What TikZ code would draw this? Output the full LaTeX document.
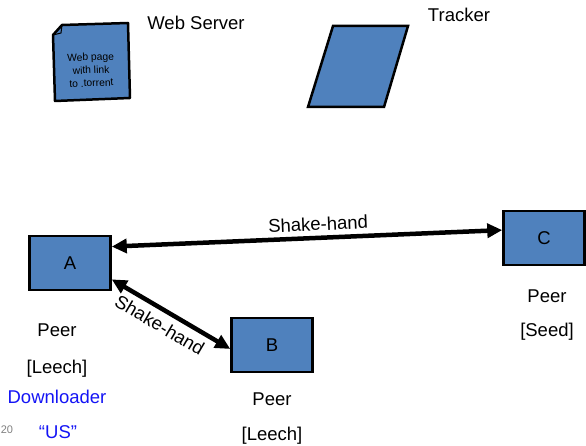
\documentclass[tikz,border=0pt]{standalone}
\usepackage{fontspec}
\setmainfont{Liberation Sans}
\usepackage{tikz}
\usetikzlibrary{arrows.meta, calc}

\definecolor{PeerBlue}{RGB}{79,129,189}
\definecolor{LabelBlue}{RGB}{20,20,245}

\tikzset{
  peerbox/.style={draw=black, line width=2.5pt, fill=PeerBlue, minimum width=81pt,
    minimum height=54pt, inner sep=0pt, font=\fontsize{18.5}{22}\selectfont},
  lbl/.style={font=\fontsize{18.5}{22}\selectfont, inner sep=0pt},
  doctext/.style={font=\fontsize{10.3}{13}\selectfont, align=center, inner sep=0pt},
  shake/.style={line width=4.5pt, {Triangle[length=15pt,width=14pt]}-{Triangle[length=15pt,width=14pt]}},
}

\begin{document}
\begin{tikzpicture}[x=1pt, y=-1pt]
	\useasboundingbox (0,0) rectangle (586,446);

	% web page with folded corner
	\coordinate (P1) at (62,25);
	\coordinate (P2) at (128,23);
	\coordinate (P3) at (130,98);
	\coordinate (P4) at (55,101);
	\coordinate (P5) at (53,35);

	\filldraw[fill=PeerBlue, draw=black, line width=2.5pt, line join=round]
		(P1) -- (P2) -- (P3) -- (P4) -- (P5) -- cycle;
	\draw[line width=1pt] (P5) -- (61,33) -- (P1);
	\node[doctext, rotate=2] (page) at (91,70) {Web page\\with link\\to .torrent};

	% tracker
	\filldraw[fill=PeerBlue, draw=black, line width=2.5pt]
		(333,26) -- (408,26) -- (384,107) -- (308,107) -- cycle;

	\node[lbl, anchor=base] (server) at (196,30) {Web Server};
	\node[lbl, anchor=base] (tracker) at (459,22) {Tracker};

	% peers
	\node[peerbox] (A) at (70,263) {A};
	\node[peerbox] (B) at (272,345) {B};
	\node[peerbox] (C) at (544,238) {C};

	\draw[shake] ($(A.north east)!0.21!(A.south east)$)
		-- node[lbl, pos=0.53, sloped, above=5pt] (hsAC) {Shake-hand}
		($(C.north west)!0.36!(C.south west)$);
	\draw[shake] ($(A.north east)!0.79!(A.south east)$)
		-- node[lbl, pos=0.47, sloped, below=6pt] (hsAB) {Shake-hand}
		($(B.north west)!0.57!(B.south west)$);

	\node[lbl, anchor=base] (Apeer) at (57,336) {Peer};
	\node[lbl, anchor=base] (Arole) at (57,373) {[Leech]};
	\node[lbl, anchor=base, text=LabelBlue] (Adown) at (57,403) {Downloader};
	\node[lbl, anchor=base, text=LabelBlue] (Aus) at (58,438) {``US''};
	\node[font=\fontsize{11}{13}\selectfont, text=gray, inner sep=0pt, anchor=base] (pagenum) at (7,433) {20};

	\node[lbl, anchor=base] (Bpeer) at (272,405) {Peer};
	\node[lbl, anchor=base] (Brole) at (272,440) {[Leech]};

	\node[lbl, anchor=base] (Cpeer) at (547,302) {Peer};
	\node[lbl, anchor=base] (Crole) at (547,336) {[Seed]};

\end{tikzpicture}
\end{document}
